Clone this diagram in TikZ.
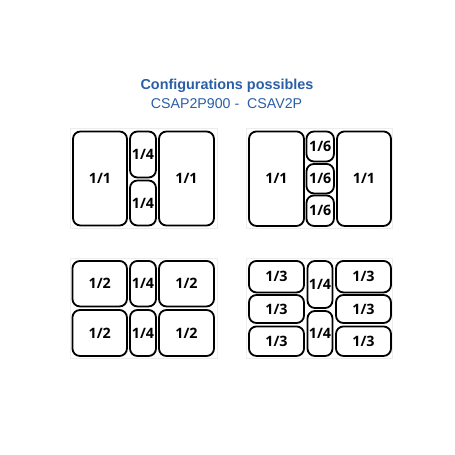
\documentclass[tikz,border=0pt]{standalone}
\usepackage{fontspec}
\usepackage{tikz}
\usetikzlibrary{positioning}
\newfontfamily\bacfont{Open Sans}
\newfontfamily\titrefont{Liberation Sans}
\definecolor{titreblue}{RGB}{42,95,166}

\begin{document}
\begin{tikzpicture}[x=1pt,y=-1pt,
    bac/.style={draw, line width=1.8pt, rounded corners=7.5pt, inner sep=0pt,
      font=\bacfont\bfseries\fontsize{14.3}{14.3}\selectfont},
    cadre/.style={draw=black!7, line width=0.8pt}]
  \useasboundingbox (0,0) rectangle (455,455);
  % titre
  \node[anchor=base, text=titreblue, font=\titrefont\bfseries\fontsize{14.4}{14.4}\selectfont]
    (titre) at (227,89.3) {Configurations possibles};
  \node[anchor=base, text=titreblue, font=\titrefont\fontsize{14.2}{14.2}\selectfont]
    (modeles) at (226.5,108.3) {CSAP2P900 -~ CSAV2P};
  % cadres
  \draw[cadre] (70,128) rectangle (217,228);
  \draw[cadre] (246.5,128) rectangle (392.5,228.5);
  \draw[cadre] (70,258) rectangle (217,358);
  \draw[cadre] (246.5,258) rectangle (392.5,358);
  % 1/1 + 2 x 1/4 + 1/1
  \node[bac, minimum width=54pt, minimum height=94pt] (a1) at (100,178.5) {1/1};
  \node[bac, minimum width=26pt, minimum height=46pt] (a2) at (143,154.5) {1/4};
  \node[bac, minimum width=26pt, minimum height=45pt] (a3) at (143,203) {1/4};
  \node[bac, minimum width=55pt, minimum height=94pt] (a4) at (186.5,178.5) {1/1};
  % 1/1 + 3 x 1/6 + 1/1
  \node[bac, minimum width=55pt, minimum height=94.5pt] (b1) at (276.5,178.7) {1/1};
  \node[bac, minimum width=27.5pt, minimum height=30pt] (b2) at (320.2,146.5) {1/6};
  \node[bac, minimum width=27.5pt, minimum height=29.5pt] (b3) at (320.2,178.7) {1/6};
  \node[bac, minimum width=27.5pt, minimum height=30.5pt] (b4) at (320.2,210.7) {1/6};
  \node[bac, minimum width=54pt, minimum height=94.5pt] (b5) at (364,178.7) {1/1};
  % 4 x 1/2 + 2 x 1/4
  \node[bac, minimum width=54.5pt, minimum height=45.5pt] (c1) at (99.7,283.7) {1/2};
  \node[bac, minimum width=54.5pt, minimum height=46pt] (c2) at (99.7,333) {1/2};
  \node[bac, minimum width=26pt, minimum height=45.5pt] (c3) at (143,283.7) {1/4};
  \node[bac, minimum width=26pt, minimum height=46pt] (c4) at (143,333) {1/4};
  \node[bac, minimum width=55pt, minimum height=45.5pt] (c5) at (186.5,283.7) {1/2};
  \node[bac, minimum width=55pt, minimum height=46pt] (c6) at (186.5,333) {1/2};
  % 6 x 1/3 + 2 x 1/4
  \node[bac, minimum width=55pt, minimum height=31.5pt] (d1) at (276.5,276.7) {1/3};
  \node[bac, minimum width=55pt, minimum height=28pt] (d2) at (276.5,309) {1/3};
  \node[bac, minimum width=55pt, minimum height=29.5pt] (d3) at (276.5,341.2) {1/3};
  \node[bac, minimum width=25pt, minimum height=47pt] (d4) at (320,284.5) {1/4};
  \node[bac, minimum width=25pt, minimum height=45pt] (d5) at (320,333.5) {1/4};
  \node[bac, minimum width=55pt, minimum height=31.5pt] (d6) at (363.5,276.7) {1/3};
  \node[bac, minimum width=55pt, minimum height=28pt] (d7) at (363.5,309) {1/3};
  \node[bac, minimum width=55pt, minimum height=29.5pt] (d8) at (363.5,341.2) {1/3};
\end{tikzpicture}
\end{document}
